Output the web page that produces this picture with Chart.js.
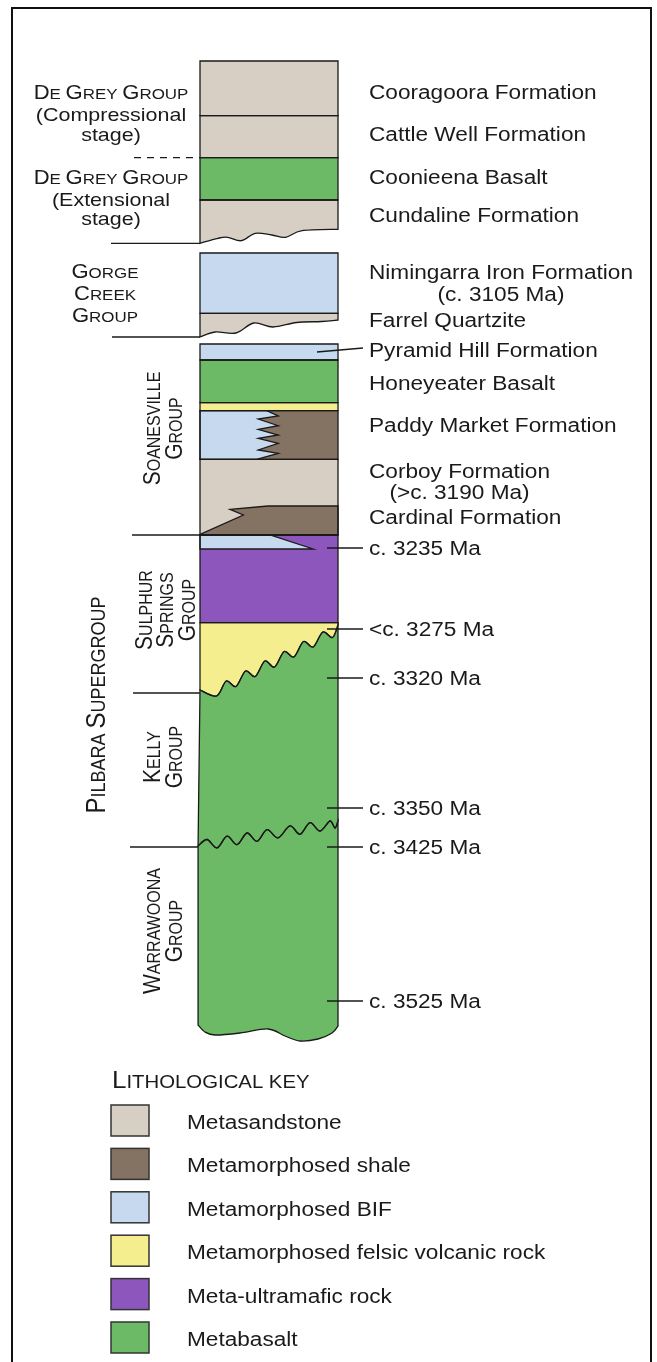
<!DOCTYPE html>
<html>
<head>
<meta charset="utf-8">
<script src="https://cdn.jsdelivr.net/npm/chart.js@4/dist/chart.umd.min.js"></script>
<style>
  html, body { margin: 0; padding: 0; background: #ffffff; }
  #wrap { width: 657px; height: 1362px; }
  canvas { display: block; }
</style>
</head>
<body>
<div id="wrap"><canvas id="column" width="657" height="1362"></canvas></div>
<script>
// ---------- Lithological key ----------
const rockNames = ['Metasandstone', 'Metamorphosed shale', 'Metamorphosed BIF',
  'Metamorphosed felsic volcanic rock', 'Meta-ultramafic rock', 'Metabasalt'];
const rockColors = ['#d7cfc3', '#847262', '#c6d9ee', '#f5ee8f', '#8c56bc', '#6cba66'];

// ---------- Full-width units, top to bottom (depth below top of column) ----------
const layerNames = ['Cooragoora Formation', 'Cattle Well Formation', 'Coonieena Basalt',
  'Cundaline Formation', 'Nimingarra Iron Formation', 'Farrel Quartzite',
  'Pyramid Hill Formation', 'Honeyeater Basalt', 'Felsic volcanic bed',
  'Paddy Market Formation', 'Corboy Formation', 'Sulphur Springs ultramafic unit',
  'Sulphur Springs felsic unit', 'Kelly Group basalt', 'Warrawoona Group basalt'];
const layerRock = [0, 0, 5, 0, 2, 0, 2, 5, 3, 1, 0, 4, 3, 5, 5];
const layerTop  = [0, 54.7, 96.7, 139, 192, 252.3, 283, 299, 341.7, 349.7, 398.3, 474, 561.7,
  'felsicBase', 'kellyBase'];
const layerBase = [54.7, 96.7, 139, 'cundalineBase', 252.3, 'farrelBase', 299, 341.7, 349.7,
  398.3, 474, 561.7, 'felsicBase', 'kellyBase', 'columnBase'];

// ---------- Irregular contacts, traced left (0) to right (1) across the column ----------
const cundalineBase = [[0, 182.3], [0.13, 177.3], [0.2, 176.3], [0.3, 179.7], [0.4, 172.3],
  [0.52, 174], [0.62, 176.3], [0.74, 169.7], [1, 168.3]];
const farrelBase = [[0, 276], [0.11, 271], [0.26, 272], [0.39, 262], [0.53, 266],
  [0.7, 261.5], [0.88, 260.5], [1, 259]];
const felsicBase = [[0, 629], [0.12, 635], [0.19, 620], [0.26, 625.5], [0.33, 610],
  [0.4, 615.5], [0.47, 600], [0.54, 606], [0.61, 590.5], [0.68, 596], [0.75, 580.5],
  [0.82, 586], [0.89, 571], [0.96, 576.5], [1, 564]];
const kellyBase = [[-0.014, 785], [0.051, 778.5], [0.123, 786.9], [0.196, 775.2],
  [0.268, 783.6], [0.341, 772], [0.413, 780.3], [0.486, 768.7], [0.565, 776.9],
  [0.652, 764.9], [0.725, 773.3], [0.797, 761.6], [0.87, 770], [0.942, 760],
  [0.978, 767], [1, 760]];
const columnBase = [[-0.014, 964], [0.036, 971], [0.109, 974], [0.29, 972], [0.493, 968],
  [0.616, 975], [0.725, 980], [0.855, 978], [0.957, 972], [1, 965]];

// ---------- Lenses and interfingering bodies ----------
const paddyBif = [[0, 349.7], [0.483, 349.7], [0.567, 355], [0.422, 358], [0.567, 364.7],
  [0.422, 368.3], [0.567, 374], [0.422, 377.3], [0.567, 382.3], [0.422, 389],
  [0.567, 392.3], [0.41, 398.3], [0, 398.3]];
const cardinalWedge = [[0, 474], [0, 473.3], [0.314, 454], [0.217, 448.3], [0.493, 445],
  [1, 445], [1, 474]];
const sulphurBifLens = [[0, 474], [0.507, 474], [0.82, 488], [0, 488]];
const lensRock = [2, 1, 2];

// ---------- Labels ----------
const formationLabels = ['Cooragoora Formation', 'Cattle Well Formation', 'Coonieena Basalt',
  'Cundaline Formation', 'Nimingarra Iron Formation', 'Farrel Quartzite',
  'Pyramid Hill Formation', 'Honeyeater Basalt', 'Paddy Market Formation',
  'Corboy Formation', 'Cardinal Formation'];
const formationDepths = [31, 73, 116, 154, 211, 259, 289, 322, 364, 410, 456];
const formationNotes = ['(c. 3105 Ma)', '(>c. 3190 Ma)'];
const noteOwner = [4, 9];
const noteDepths = [233, 431];
const ageLabels = ['c. 3235 Ma', '<c. 3275 Ma', 'c. 3320 Ma', 'c. 3350 Ma', 'c. 3425 Ma', 'c. 3525 Ma'];
const ageDepths = [487, 568, 617, 747, 786, 940];
const groupBoundaryDepths = [96.7, 182.3, 276, 474, 632, 786];

// ---------- Layout (pixels) ----------
const COL_L = 200, COL_R = 338;
const TEXT_X = 369;
const TICK_X = [327, 363];
const LEADER_X = [317, 363];
const BOUNDARY_START = [134, 111, 112, 132, 133, 130];
const BOUNDARY_END = [200, 200, 200, 200, 200, 198];
const FONT = '"Liberation Sans", Arial, Helvetica, sans-serif';
const STRETCH = 1.13;       // left-hand group names
const STRETCH_R = 1.16;     // formation names, ages and key entries
const LABEL_SIZE = 19.5;
const INK = '#1a1a1a';
const colX = f => COL_L + f * (COL_R - COL_L);

const horizontalGroups = [
  { lines: ['De Grey Group', '(Compressional', 'stage)'], caps: [true, false, false], cx: 111, depths: [31, 53, 73] },
  { lines: ['De Grey Group', '(Extensional', 'stage)'], caps: [true, false, false], cx: 111, depths: [116, 138, 157] },
  { lines: ['Gorge', 'Creek', 'Group'], caps: [true, true, true], cx: 105, depths: [210, 232, 254] }
];
const verticalGroups = [
  { lines: ['Soanesville', 'Group'], base: [160, 181.7], depth: 367.5, big: 21, small: 16 },
  { lines: ['Sulphur', 'Springs', 'Group'], base: [151.7, 172.9, 195], depth: 549, big: 21, small: 16 },
  { lines: ['Pilbara Supergroup'], base: [105], depth: 644, big: 24, small: 18 },
  { lines: ['Kelly', 'Group'], base: [160, 181.7], depth: 696, big: 21, small: 16 },
  { lines: ['Warrawoona', 'Group'], base: [160, 181.7], depth: 870, big: 21, small: 16 }
];

// ---------- Datasets: boundary lines and leader ticks ----------
const lineStyle = { showLine: true, pointRadius: 0, borderColor: INK, borderWidth: 1.3, fill: false, tension: 0 };
const datasets = [];
groupBoundaryDepths.forEach((d, i) => {
  datasets.push(Object.assign({}, lineStyle, {
    label: 'group boundary ' + i,
    data: [{ x: BOUNDARY_START[i], y: d }, { x: BOUNDARY_END[i], y: d }],
    borderDash: i === 0 ? [7, 6] : []
  }));
});
ageDepths.forEach((d, i) => {
  datasets.push(Object.assign({}, lineStyle, {
    label: ageLabels[i], borderWidth: 1.5,
    data: [{ x: TICK_X[0], y: d }, { x: TICK_X[1], y: d }]
  }));
});
const pyramidIdx = formationLabels.indexOf('Pyramid Hill Formation');
datasets.push(Object.assign({}, lineStyle, {
  label: 'Pyramid Hill leader',
  data: [{ x: LEADER_X[0], y: formationDepths[pyramidIdx] + 2 }, { x: LEADER_X[1], y: formationDepths[pyramidIdx] - 2 }]
}));

// ---------- Drawing helpers ----------
const contacts = { cundalineBase, farrelBase, felsicBase, kellyBase, columnBase };
function edgeOf(e) { return typeof e === 'number' ? { pts: [[0, e], [1, e]], smooth: false } : { pts: contacts[e], smooth: true }; }

function trace(path, pts, smooth) {
  if (!smooth) { for (let i = 1; i < pts.length; i++) path.lineTo(pts[i][0], pts[i][1]); return; }
  for (let i = 0; i < pts.length - 1; i++) {
    const p0 = pts[i - 1] || pts[i], p1 = pts[i], p2 = pts[i + 1], p3 = pts[i + 2] || pts[i + 1];
    path.bezierCurveTo(p1[0] + (p2[0] - p0[0]) / 6, p1[1] + (p2[1] - p0[1]) / 6,
      p2[0] - (p3[0] - p1[0]) / 6, p2[1] - (p3[1] - p1[1]) / 6, p2[0], p2[1]);
  }
}

function capsRuns(str, big, small) {
  const runs = [];
  for (const ch of str) {
    const isBig = ch !== ch.toLowerCase();
    const size = isBig ? big : small;
    const t = isBig ? ch : ch.toUpperCase();
    const last = runs[runs.length - 1];
    if (last && last.size === size) last.t += t; else runs.push({ t, size });
  }
  return runs;
}
function runsWidth(ctx, runs) {
  let w = 0;
  runs.forEach(r => { ctx.font = r.size + 'px ' + FONT; r.w = ctx.measureText(r.t).width; w += r.w; });
  return w;
}
function drawRuns(ctx, runs, x0) {
  let x = x0;
  runs.forEach(r => { ctx.font = r.size + 'px ' + FONT; ctx.fillText(r.t, x, 0); x += r.w; });
}
// horizontal text centred vertically on cy; align: left | center
function hText(ctx, runs, x, cy, align, stretch) {
  const sx = stretch || STRETCH;
  const w = runsWidth(ctx, runs);
  const cap = Math.max(...runs.map(r => r.size)) * 0.716;
  ctx.save();
  ctx.translate(align === 'center' ? x - w * sx / 2 : x, cy + cap / 2);
  ctx.scale(sx, 1);
  drawRuns(ctx, runs, 0);
  ctx.restore();
}
// text reading upwards, baseline at screen x = bx, centred on cy
function vText(ctx, runs, bx, cy) {
  const w = runsWidth(ctx, runs);
  ctx.save();
  ctx.translate(bx, cy);
  ctx.scale(STRETCH, 1);
  ctx.rotate(-Math.PI / 2);
  drawRuns(ctx, runs, -w / 2);
  ctx.restore();
}
const plain = (s, size) => [{ t: s, size }];

// ---------- Plugins ----------
const strataPlugin = {
  id: 'strata',
  beforeDatasetsDraw(chart) {
    const { ctx, scales: { x, y } } = chart;
    const P = p => [x.getPixelForValue(colX(p[0])), y.getPixelForValue(p[1])];

    // outer frame
    ctx.save();
    ctx.strokeStyle = '#111';
    ctx.lineWidth = 2;
    ctx.strokeRect(12, 8, 639, 1400);
    ctx.restore();

    const shapes = [];
    layerNames.forEach((name, i) => {
      const top = edgeOf(layerTop[i]), base = edgeOf(layerBase[i]);
      const tp = top.pts.map(P), bp = base.pts.map(P).reverse();
      const path = new Path2D();
      path.moveTo(tp[0][0], tp[0][1]);
      trace(path, tp, top.smooth);
      path.lineTo(bp[0][0], bp[0][1]);
      trace(path, bp, base.smooth);
      path.closePath();
      shapes.push({ path, color: rockColors[layerRock[i]] });
    });
    [paddyBif, cardinalWedge, sulphurBifLens].forEach((poly, i) => {
      const pts = poly.map(P);
      const path = new Path2D();
      path.moveTo(pts[0][0], pts[0][1]);
      trace(path, pts, false);
      path.closePath();
      shapes.push({ path, color: rockColors[lensRock[i]] });
    });

    ctx.save();
    shapes.forEach(s => { ctx.fillStyle = s.color; ctx.fill(s.path); });
    ctx.strokeStyle = INK;
    ctx.lineWidth = 1.3;
    ctx.lineJoin = 'miter';
    shapes.forEach(s => ctx.stroke(s.path));
    ctx.restore();
  },
  afterDatasetsDraw(chart) {
    const { ctx, scales: { x, y } } = chart;
    ctx.save();
    ctx.fillStyle = INK;
    ctx.textBaseline = 'alphabetic';
    ctx.textAlign = 'left';

    // formation names
    const tx = x.getPixelForValue(TEXT_X);
    formationLabels.forEach((s, i) => hText(ctx, plain(s, LABEL_SIZE), tx, y.getPixelForValue(formationDepths[i]), 'left', STRETCH_R));
    formationNotes.forEach((s, i) => {
      ctx.font = LABEL_SIZE + 'px ' + FONT;
      const ownerW = ctx.measureText(formationLabels[noteOwner[i]]).width * STRETCH_R;
      hText(ctx, plain(s, LABEL_SIZE), tx + ownerW / 2, y.getPixelForValue(noteDepths[i]), 'center', STRETCH_R);
    });
    // ages
    ageLabels.forEach((s, i) => hText(ctx, plain(s, LABEL_SIZE), tx, y.getPixelForValue(ageDepths[i]), 'left', STRETCH_R));

    // group names, horizontal
    horizontalGroups.forEach(g => {
      g.lines.forEach((s, j) => {
        const runs = g.caps[j] ? capsRuns(s, 19.5, 15) : plain(s, 19);
        hText(ctx, runs, x.getPixelForValue(g.cx), y.getPixelForValue(g.depths[j]), 'center', STRETCH);
      });
    });
    // group names, vertical
    verticalGroups.forEach(g => {
      g.lines.forEach((s, j) => vText(ctx, capsRuns(s, g.big, g.small), x.getPixelForValue(g.base[j]), y.getPixelForValue(g.depth)));
    });

    // lithological key
    hText(ctx, capsRuns('Lithological key', 23, 18), 112, 1080, 'left', STRETCH);
    rockNames.forEach((name, i) => {
      const top = 1105 + i * 43.4;
      ctx.fillStyle = rockColors[i];
      ctx.fillRect(111, top, 38, 31);
      ctx.strokeStyle = '#333';
      ctx.lineWidth = 1.5;
      ctx.strokeRect(111, top, 38, 31);
      ctx.fillStyle = INK;
      hText(ctx, plain(name, LABEL_SIZE), 187, top + 17, 'left', STRETCH_R);
    });
    ctx.restore();
  }
};

new Chart(document.getElementById('column'), {
  type: 'scatter',
  data: { datasets },
  options: {
    responsive: false,
    devicePixelRatio: 1,
    animation: false,
    layout: { padding: 0 },
    events: [],
    scales: {
      x: { type: 'linear', min: 0, max: 657, display: false },
      y: { type: 'linear', min: -61, max: 1301, reverse: true, display: false }
    },
    plugins: { legend: { display: false }, tooltip: { enabled: false } }
  },
  plugins: [strataPlugin]
});
</script>
</body>
</html>
